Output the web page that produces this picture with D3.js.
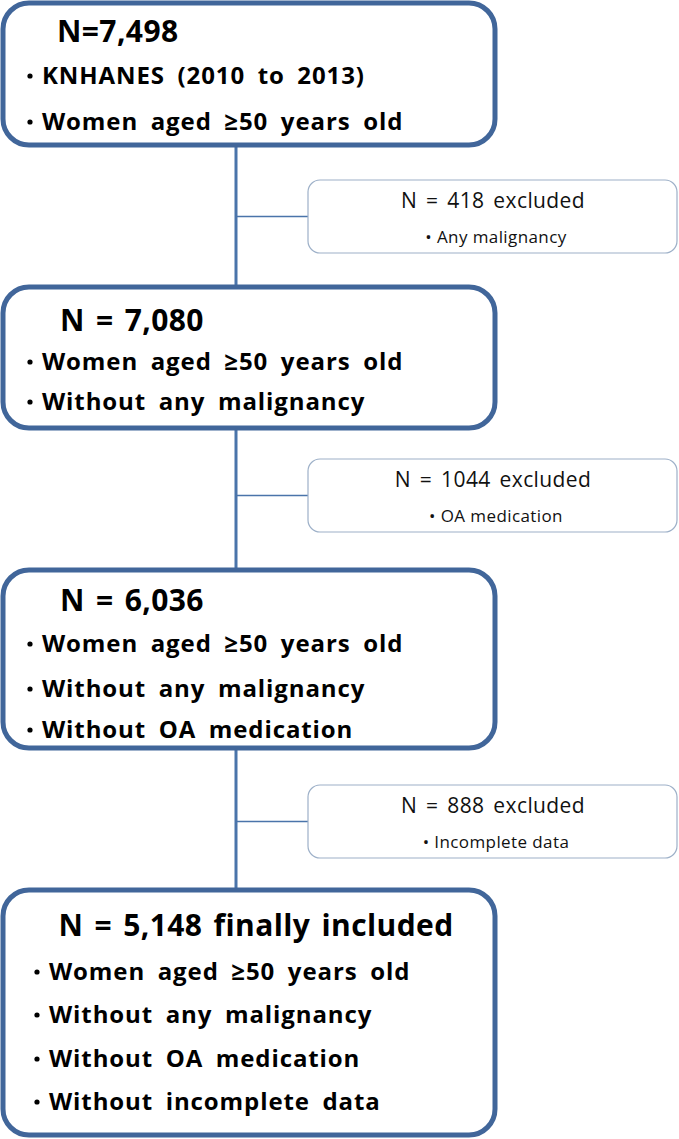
<!DOCTYPE html>
<html><head><meta charset="utf-8">
<script src="https://cdn.jsdelivr.net/npm/d3@7"></script>
<style>body{margin:0;background:#fff}svg{display:block}</style>
</head><body>
<svg id="c" width="679" height="1139"></svg>
<script>
// ---- data ----
const stageTitles = ["N=7,498", "N = 7,080", "N = 6,036", "N = 5,148 finally included"];
const stageBullets = [
  ["KNHANES (2010 to 2013)", "Women aged \u226550 years old"],
  ["Women aged \u226550 years old", "Without any malignancy"],
  ["Women aged \u226550 years old", "Without any malignancy", "Without OA medication"],
  ["Women aged \u226550 years old", "Without any malignancy", "Without OA medication", "Without incomplete data"]
];
const excludedCounts = ["N = 418 excluded", "N = 1044 excluded", "N = 888 excluded"];
const excludedReasons = ["Any malignancy", "OA medication", "Incomplete data"];

// ---- layout ----
const svg = d3.select("#c");
const font = "'Open Sans','Noto Sans',sans-serif";
const mainColor = "#41669a";
const boxTop = [3, 287, 570, 890];
const boxBot = [145, 428, 748, 1135];
const titleY = [42, 331, 611, 936];
const titleX = [57, 60, 60, null];
const lineY = [[84, 130], [370, 410], [652, 697, 738], [980, 1023, 1067, 1110]];
const sideTop = [180, 459, 785];
const sideH = 73;
const x = d3.scaleLinear().domain([0, 1]).range([3, 495]);
const spineX = 236;

// connectors
svg.append("line").attr("x1", spineX).attr("x2", spineX).attr("y1", boxBot[0]).attr("y2", boxTop[3])
  .attr("stroke", "#4a74aa").attr("stroke-width", 3);
sideTop.forEach((t, i) => {
  svg.append("line").attr("x1", spineX).attr("x2", 308).attr("y1", t + sideH / 2).attr("y2", t + sideH / 2)
    .attr("stroke", "#4a74aa").attr("stroke-width", 1.5);
});

// main boxes
stageTitles.forEach((title, i) => {
  const g = svg.append("g");
  g.append("rect").attr("x", x(0)).attr("y", boxTop[i]).attr("width", x(1) - x(0)).attr("height", boxBot[i] - boxTop[i])
    .attr("rx", 26).attr("ry", 26).attr("fill", "#fff").attr("stroke", mainColor).attr("stroke-width", 5);
  const t = g.append("text").attr("y", titleY[i]).attr("font-family", font).attr("font-weight", "bold")
    .attr("font-size", 30).attr("letter-spacing", 0.4).attr("fill", "#000").attr("word-spacing", 3).text(title);
  if (titleX[i] === null) t.attr("x", 256).attr("text-anchor", "middle");
  else t.attr("x", titleX[i]);
  const bx = i === 3 ? 34 : 27;
  stageBullets[i].forEach((b, j) => {
    g.append("circle").attr("cx", bx + 3).attr("cy", lineY[i][j] - 8).attr("r", 2.6).attr("fill", "#000");
    g.append("text").attr("x", bx + 15).attr("y", lineY[i][j]).attr("font-family", font)
      .attr("font-weight", "bold").attr("font-size", 24).attr("letter-spacing", 0.9).attr("word-spacing", 5.5)
      .attr("fill", "#000").text(b);
  });
});

// side boxes
excludedCounts.forEach((c, i) => {
  const g = svg.append("g");
  g.append("rect").attr("x", 308).attr("y", sideTop[i]).attr("width", 369).attr("height", sideH)
    .attr("rx", 12).attr("ry", 12).attr("fill", "#fff").attr("stroke", "#9db0c8").attr("stroke-width", 1.2);
  g.append("text").attr("x", 493).attr("y", sideTop[i] + 28).attr("text-anchor", "middle")
    .attr("font-family", font).attr("font-size", 21).attr("letter-spacing", 0.4).attr("word-spacing", 3)
    .attr("fill", "#111").text(c);
  g.append("text").attr("x", 496).attr("y", sideTop[i] + 63).attr("text-anchor", "middle")
    .attr("font-family", font).attr("font-size", 17).attr("letter-spacing", 0.4).attr("fill", "#111")
    .text("\u2022 " + excludedReasons[i]);
});
</script>
</body></html>
